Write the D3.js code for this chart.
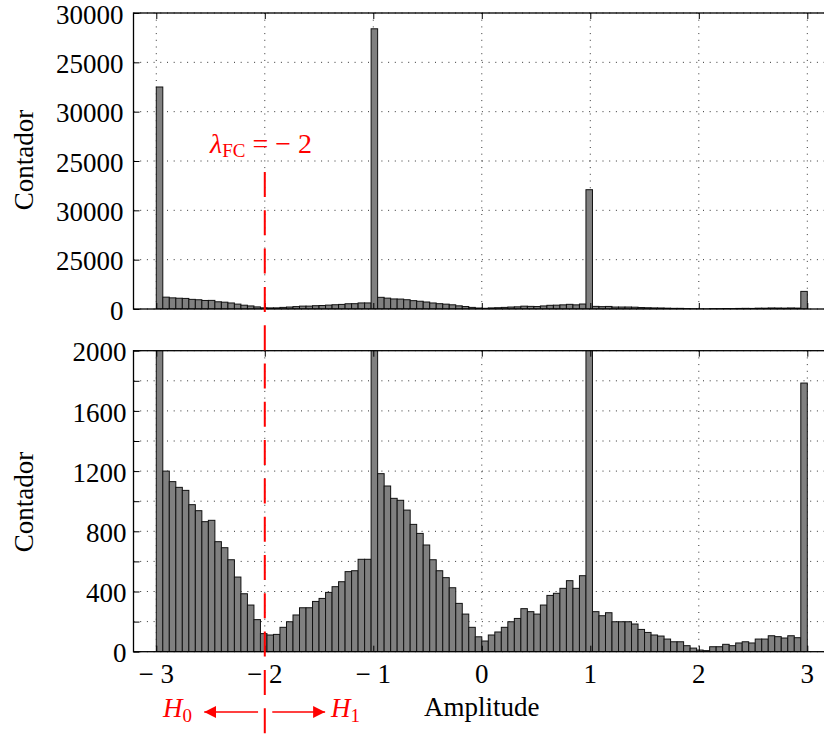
<!DOCTYPE html>
<html>
<head>
<meta charset="utf-8">
<script src="https://cdn.jsdelivr.net/npm/d3@7"></script>
<style>
  body { margin: 0; background: #fff; }
  svg text { font-family: "Liberation Serif", "Times New Roman", "DejaVu Serif", serif !important; }
</style>
</head>
<body>
<div id="chart"></div>
<script>
// histogram: 100 bins of width 0.06 from -3 to 3
const binStart = -3;
const binWidth = 0.06;
const counts = [
  22500, 1200, 1130, 1092, 1072, 977, 937, 864, 873, 731,
  691, 611, 496, 385, 310, 213, 120, 111, 115, 162,
  199, 244, 292, 292, 334, 354, 394, 432, 465, 532,
  538, 614, 614, 28400, 1183, 1101, 1019, 1006, 941, 846,
  786, 709, 611, 538, 492, 425, 321, 250, 162, 99,
  71, 111, 131, 162, 199, 221, 286, 266, 250, 310,
  374, 388, 421, 472, 421, 505, 12090, 266, 239, 259,
  199, 199, 199, 184, 148, 128, 111, 104, 84, 66,
  66, 40, 24, 11, 7, 33, 33, 49, 40, 58,
  66, 58, 84, 84, 106, 100, 91, 106, 93, 1785
];

const xTicks = [-3, -2, -1, 0, 1, 2, 3];
const xTickLabels = ["\u2212 3", "\u2212 2", "\u2212 1", "0", "1", "2", "3"];
const topTicks = [0, 5000, 10000, 15000, 20000, 25000, 30000];
const topTickLabels = ["0", "25000", "30000", "25000", "30000", "25000", "30000"];
const bottomTicks = [0, 200, 400, 600, 800, 1000, 1200, 1400, 1600, 1800, 2000];
const bottomLabelTicks = [0, 400, 800, 1200, 1600, 2000];
const threshold = -2;

const W = 824, H = 737;
const red = "#ff0000";
const fontSize = 27;
const serif = '"Liberation Serif", "Times New Roman", "DejaVu Serif", serif';

const svg = d3.select("#chart").append("svg")
  .attr("width", W).attr("height", H)
  .attr("font-family", serif);

const x = d3.scaleLinear().domain([-3.21, 3.2]).range([133.5, 829]);
const yTop = d3.scaleLinear().domain([0, 30000]).range([309, 13]);
const yBot = d3.scaleLinear().domain([0, 2000]).range([651.7, 350.7]);

const bins = counts.map((c, i) => ({x0: binStart + i * binWidth, x1: binStart + (i + 1) * binWidth, c}));

function panel(y, yTickVals, labelFor, labelPad, clipId) {
  const [y0, y1] = y.range();
  const g = svg.append("g");

  // dotted grid
  g.append("g").selectAll("line.v").data(xTicks).join("line")
    .attr("x1", d => x(d)).attr("x2", d => x(d))
    .attr("y1", y1).attr("y2", y0)
    .attr("stroke", "#333").attr("stroke-width", 1)
    .attr("stroke-dasharray", "1,5.7");
  g.append("g").selectAll("line.h").data(yTickVals).join("line")
    .attr("x1", x.range()[0]).attr("x2", x.range()[1])
    .attr("y1", d => y(d)).attr("y2", d => y(d))
    .attr("stroke", "#333").attr("stroke-width", 1)
    .attr("stroke-dasharray", "1,5.7");

  g.append("clipPath").attr("id", clipId)
    .append("rect")
    .attr("x", x.range()[0]).attr("y", y1)
    .attr("width", x.range()[1] - x.range()[0]).attr("height", y0 - y1);

  g.append("g").attr("clip-path", `url(#${clipId})`)
    .selectAll("rect").data(bins).join("rect")
    .attr("x", d => x(d.x0))
    .attr("width", d => x(d.x1) - x(d.x0))
    .attr("y", d => y(d.c))
    .attr("height", d => y(0) - y(d.c))
    .attr("fill", "#808080")
    .attr("stroke", "#111")
    .attr("stroke-width", 1);

  // frame
  g.append("rect")
    .attr("x", x.range()[0]).attr("y", y1)
    .attr("width", x.range()[1] - x.range()[0]).attr("height", y0 - y1)
    .attr("fill", "none").attr("stroke", "#000").attr("stroke-width", 1.3);

  // inward ticks, left side with labels
  const left = g.append("g")
    .attr("transform", `translate(${x.range()[0]},0)`)
    .call(d3.axisLeft(y).tickValues(yTickVals).tickSize(-6).tickPadding(labelPad)
      .tickFormat(labelFor));
  left.attr("font-family", serif).attr("font-size", fontSize);
  left.select(".domain").remove();
  left.selectAll("text").attr("dy", "0.38em").attr("fill", "#000");

  // inward ticks on top and bottom edges
  [y1, y0].forEach((yy, k) => {
    const ax = g.append("g").attr("transform", `translate(0,${yy})`)
      .call((k === 0 ? d3.axisTop(x) : d3.axisBottom(x)).tickValues(xTicks).tickSize(-6).tickFormat(""));
    ax.select(".domain").remove();
  });
  return g;
}

panel(yTop, topTicks, (d, i) => topTickLabels[i], 10, "clipTop");
panel(yBot, bottomTicks, d => bottomLabelTicks.includes(d) ? String(d) : "", 7, "clipBot");

// x tick labels under the bottom panel
svg.append("g").selectAll("text").data(xTicks).join("text")
  .attr("x", d => x(d))
  .attr("y", 683)
  .attr("text-anchor", "middle")
  .attr("font-size", fontSize)
  .text((d, i) => xTickLabels[i]);

// axis titles
svg.append("text")
  .attr("x", x(0)).attr("y", 716)
  .attr("text-anchor", "middle")
  .attr("font-size", fontSize)
  .text("Amplitude");

[160, 502].forEach(cy => {
  svg.append("text")
    .attr("transform", `translate(33,${cy}) rotate(-90)`)
    .attr("text-anchor", "middle")
    .attr("font-size", fontSize)
    .text("Contador");
});

// decision threshold
svg.append("line")
  .attr("x1", x(threshold)).attr("x2", x(threshold))
  .attr("y1", 172).attr("y2", H)
  .attr("stroke", red).attr("stroke-width", 2)
  .attr("stroke-dasharray", "25,13.3");

const lam = svg.append("text")
  .attr("x", x(-2.505)).attr("y", 153)
  .attr("fill", red)
  .attr("font-size", 28);
lam.append("tspan").attr("font-style", "italic").text("\u03bb");
lam.append("tspan").attr("dy", 4).attr("font-size", 19).text("FC");
lam.append("tspan").attr("dy", -4).text(" = \u2212 2");

// H0 / H1 arrows
svg.append("defs").append("marker")
  .attr("id", "arrow").attr("viewBox", "0 0 10 10")
  .attr("refX", 10).attr("refY", 5)
  .attr("markerWidth", 12).attr("markerHeight", 12)
  .attr("markerUnits", "userSpaceOnUse")
  .attr("orient", "auto")
  .append("path").attr("d", "M0,0 L10,5 L0,10 Z").attr("fill", red);

[[-2.062, -2.558], [-1.931, -1.444]].forEach(([a, b]) => {
  svg.append("line")
    .attr("x1", x(a)).attr("x2", x(b))
    .attr("y1", 712).attr("y2", 712)
    .attr("stroke", red).attr("stroke-width", 1.5)
    .attr("marker-end", "url(#arrow)");
});

[["0", 163], ["1", 331]].forEach(([sub, px]) => {
  const t = svg.append("text")
    .attr("x", px).attr("y", 717)
    .attr("fill", red)
    .attr("font-size", fontSize);
  t.append("tspan").attr("font-style", "italic").text("H");
  t.append("tspan").attr("dy", 5).attr("font-size", 19).text(sub);
});
</script>
</body>
</html>
